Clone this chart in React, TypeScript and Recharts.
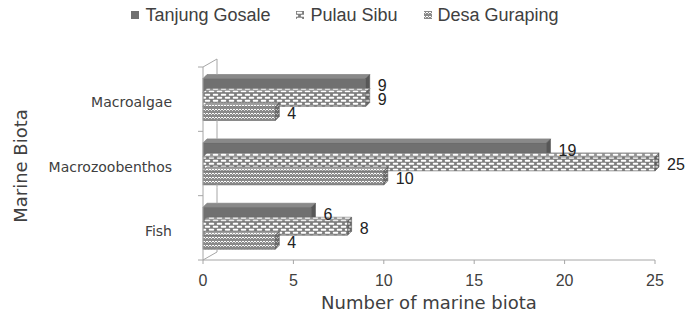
import React from "react"
import { Bar, BarChart, LabelList, Legend, XAxis, YAxis } from "recharts"

const categories = ["Macroalgae", "Macrozoobenthos", "Fish"]
const tanjungGosale = [9, 19, 6]
const pulauSibu = [9, 25, 8]
const desaGuraping = [4, 10, 4]
const xTicks = [0, 5, 10, 15, 20, 25]

const seriesNames = ["Tanjung Gosale", "Pulau Sibu", "Desa Guraping"]
const seriesKeys = ["tanjung", "pulau", "desa"]
const seriesFills = ["url(#solidGray)", "url(#brick)", "url(#weave)"]

const data = categories.map((name, i) => ({
  name,
  tanjung: tanjungGosale[i],
  pulau: pulauSibu[i],
  desa: desaGuraping[i],
}))

const W = 690
const H = 323
const margin = { top: 37, right: 35, bottom: 0, left: 0 }
const legendH = 30
const xAxisH = 63
const yAxisW = 203
const plotH = H - margin.top - legendH - xAxisH
const band = plotH / categories.length
const catGap = 0.18
const DEPTH = 4
const WALL_DX = 14
const WALL_DY = 8
const sans = "'Liberation Sans', Arial, sans-serif"
const verdana = "'DejaVu Sans', Verdana, sans-serif"
const textColor = "#404040"
const lineColor = "#a6a6a6"

function Bar3D(props: any) {
  const { x, y, width, height, fill } = props
  if (!width || width <= 0) return null
  const d = DEPTH
  const top = `M${x},${y} L${x + d},${y - d} L${x + width + d},${y - d} L${x + width},${y} Z`
  const side = `M${x + width},${y} L${x + width + d},${y - d} L${x + width + d},${y + height - d} L${x + width},${y + height} Z`
  return (
    <g>
      <rect x={x} y={y} width={width} height={height} fill={fill} stroke="#6a6a6a" strokeWidth={0.6} />
      <path d={top} fill={fill} stroke="#6a6a6a" strokeWidth={0.6} />
      <path d={top} fill="#ffffff" fillOpacity={0.18} />
      <path d={side} fill={fill} stroke="#6a6a6a" strokeWidth={0.6} />
      <path d={side} fill="#000000" fillOpacity={0.22} />
    </g>
  )
}

function CategoryTick(props: any) {
  const { x, y, payload, index } = props
  const yTop = y - band / 2
  const n = categories.length
  const gap = band * catGap
  const bx = x + WALL_DX
  return (
    <g>
      <g stroke={lineColor} strokeWidth={1} fill="none">
        {index === 0 && <line x1={x} y1={yTop} x2={bx} y2={yTop - WALL_DY} />}
        <line x1={bx} y1={yTop - WALL_DY} x2={bx} y2={yTop + gap - DEPTH} />
        <line x1={bx} y1={yTop + band - gap} x2={bx} y2={yTop + band - WALL_DY} />
        {index === n - 1 && <line x1={bx} y1={yTop + band - WALL_DY} x2={x} y2={yTop + band} />}
      </g>
      <line x1={x - 5} y1={yTop} x2={x} y2={yTop} stroke={lineColor} />
      {index === n - 1 && <line x1={x - 5} y1={yTop + band} x2={x} y2={yTop + band} stroke={lineColor} />}
      <text x={x - 31} y={y + 3} textAnchor="end" dominantBaseline="central" fontFamily={verdana} fontSize={14} fill={textColor}>
        {payload.value}
      </text>
    </g>
  )
}

function LegendContent() {
  return (
    <div style={{ height: legendH, display: "flex", justifyContent: "center", alignItems: "center", gap: 26, fontFamily: sans, fontSize: 18, color: textColor }}>
      {seriesNames.map((name, i) => (
        <div key={name} style={{ display: "flex", alignItems: "center", gap: 6 }}>
          <svg width={8} height={8}>
            <rect x={0} y={0} width={8} height={8} fill={seriesFills[i]} />
          </svg>
          <span>{name}</span>
        </div>
      ))}
    </div>
  )
}

export default function App() {
  return (
    <div style={{ position: "absolute", left: 0, top: 0, background: "#fff" }}>
      <BarChart
        width={W}
        height={H}
        data={data}
        layout="vertical"
        margin={margin}
        barCategoryGap={`${catGap * 100}%`}
        barGap={0}
      >
        <defs>
          <pattern id="solidGray" patternUnits="userSpaceOnUse" width={4} height={4}>
            <rect width={4} height={4} fill="#707070" />
          </pattern>
          <pattern id="brick" patternUnits="userSpaceOnUse" width={8} height={6}>
            <rect width={8} height={6} fill="#7d7d7d" />
            <rect x={0.8} y={0.8} width={5.4} height={2} rx={0.8} fill="#ffffff" />
            <rect x={4.8} y={3.8} width={5.4} height={2} rx={0.8} fill="#ffffff" />
            <rect x={-3.2} y={3.8} width={5.4} height={2} rx={0.8} fill="#ffffff" />
          </pattern>
          <pattern id="weave" patternUnits="userSpaceOnUse" width={6} height={4}>
            <rect width={6} height={4} fill="#8a8a8a" />
            <path d="M0,1 L1.5,2.5 L3,1 L4.5,2.5 L6,1" stroke="#ffffff" strokeWidth={1} fill="none" />
          </pattern>
        </defs>
        <Legend verticalAlign="top" align="center" content={<LegendContent />} wrapperStyle={{ top: 0, left: 0, width: W }} />
        <XAxis
          type="number"
          domain={[0, 25]}
          ticks={xTicks}
          height={xAxisH}
          stroke={lineColor}
          tickSize={4}
          tickMargin={11}
          tick={{ fontFamily: sans, fontSize: 16, fill: textColor }}
          label={{
            content: () => (
              <text x={429} y={302} textAnchor="middle" dominantBaseline="central" fontFamily={verdana} fontSize={18} fill={textColor}>
                Number of marine biota
              </text>
            ),
          }}
        />
        <YAxis
          type="category"
          dataKey="name"
          width={yAxisW}
          stroke={lineColor}
          tickLine={false}
          tickSize={0}
          tickMargin={0}
          tick={<CategoryTick />}
          label={{
            content: () => (
              <text x={20} y={166} transform="rotate(-90 20 166)" textAnchor="middle" dominantBaseline="central" fontFamily={verdana} fontSize={18} fill={textColor}>
                Marine Biota
              </text>
            ),
          }}
        />
        {seriesKeys.map((key, i) => (
          <Bar key={key} dataKey={key} name={seriesNames[i]} fill={seriesFills[i]} shape={<Bar3D />} isAnimationActive={false}>
            <LabelList dataKey={key} position="right" offset={12} style={{ fontFamily: sans, fontSize: 16, fill: "#222" }} />
          </Bar>
        ))}
      </BarChart>
    </div>
  )
}
